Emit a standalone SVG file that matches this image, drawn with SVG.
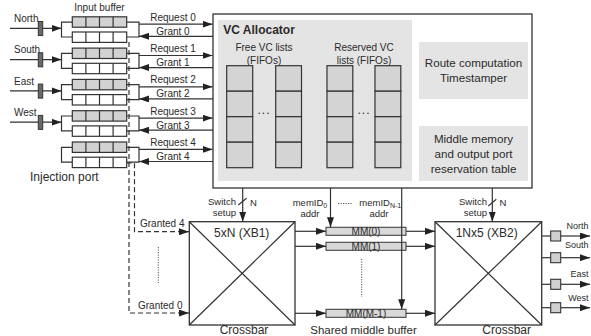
<svg xmlns="http://www.w3.org/2000/svg" width="591" height="336" viewBox="0 0 591 336">
<style>
text{font-family:"Liberation Sans",Arial,sans-serif;fill:#2b2b2b}
.t10{font-size:10px}
.t9{font-size:9.5px}
.t11{font-size:11.6px}
.t12{font-size:12px}
.c{text-anchor:middle}
.e{text-anchor:end}
.ln{fill:none;stroke:#333;stroke-width:1.2}
.dash{fill:none;stroke:#333;stroke-width:1.2;stroke-dasharray:5 3}
.dot{fill:none;stroke:#555;stroke-width:1;stroke-dasharray:1.2 1.3}
.arr{marker-end:url(#ah)}
.fq{stroke:#333;stroke-width:1.2}
.gray{fill:#d2d2d2}
.white{fill:#fff}
.cell{fill:#d4d4d4;stroke:#333;stroke-width:1.2}
.port{fill:#6a6a6a;stroke:#333;stroke-width:1}
.panel{fill:#e4e4e4}
.box{fill:#fff;stroke:#333;stroke-width:1.3}
</style>
<defs>
<marker id="ah" markerUnits="userSpaceOnUse" markerWidth="10" markerHeight="7" refX="10" refY="3.5" orient="auto"><path d="M0,0L10,3.5L0,7z" fill="#222"/></marker>
<!-- four-slot FIFO -->
<g id="fq" class="fq"><rect width="54.4" height="10.4"/><path d="M13.6,0V10.4M27.2,0V10.4M40.8,0V10.4" fill="none"/></g>
<!-- one input port: demux, two FIFOs, request/grant pair -->
<g id="portcore">
<path class="ln" d="M72.3,22.1H61.5V37H72.3"/>
<use href="#fq" x="72.3" y="16.8" class="gray"/>
<use href="#fq" x="72.3" y="32" class="white"/>
<path class="ln" d="M126.7,22.1H139V37H126.7"/>
<path class="ln arr" d="M139,24.2H212.5"/>
<path class="ln arr" d="M213,36.3H139"/>
</g>
<g id="portin">
<path class="ln arr" d="M10,28.3H38.3M42.7,28.3H61.5"/>
<rect class="port" x="38.3" y="21.5" width="4.4" height="14"/>
</g>
</defs>

<!-- input ports -->
<g id="port-north">
<use href="#portin"/><use href="#portcore"/>
<text class="t10" x="14" y="22">North</text>
<text class="t10 c" x="173" y="20.8">Request 0</text>
<text class="t10 c" x="173" y="34.8">Grant 0</text>
</g>
<g id="port-south" transform="translate(0,31.3)">
<use href="#portin"/><use href="#portcore"/>
<text class="t10" x="14" y="22">South</text>
<text class="t10 c" x="173" y="20.8">Request 1</text>
<text class="t10 c" x="173" y="34.8">Grant 1</text>
</g>
<g id="port-east" transform="translate(0,62.6)">
<use href="#portin"/><use href="#portcore"/>
<text class="t10" x="14" y="22">East</text>
<text class="t10 c" x="173" y="20.8">Request 2</text>
<text class="t10 c" x="173" y="34.8">Grant 2</text>
</g>
<g id="port-west" transform="translate(0,93.9)">
<use href="#portin"/><use href="#portcore"/>
<text class="t10" x="14" y="22">West</text>
<text class="t10 c" x="173" y="20.8">Request 3</text>
<text class="t10 c" x="173" y="34.8">Grant 3</text>
</g>
<g id="port-injection" transform="translate(0,125.2)">
<use href="#portcore"/>
<text class="t10 c" x="173" y="20.8">Request 4</text>
<text class="t10 c" x="173" y="34.8">Grant 4</text>
</g>
<text class="t10 c" x="99.5" y="11">Input buffer</text>
<text class="t12" x="30" y="181">Injection port</text>

<!-- VC allocator -->
<g id="vc-allocator">
<rect class="box" x="213" y="14" width="319" height="174"/>
<rect class="panel" x="218" y="20" width="194" height="161"/>
<text x="223.3" y="34" style="font-size:12px;font-weight:bold">VC Allocator</text>
<text class="t10 c" x="264" y="50.5">Free VC lists</text>
<text class="t10 c" x="264" y="64">(FIFOs)</text>
<text class="t10 c" x="364" y="50.5">Reserved VC</text>
<text class="t10 c" x="364" y="64">lists (FIFOs)</text>
<g>
<rect class="cell" x="226.7" y="65.7" width="26" height="25.5"/>
<rect class="cell" x="226.7" y="91.2" width="26" height="25.5"/>
<rect class="cell" x="226.7" y="116.7" width="26" height="25.5"/>
<rect class="cell" x="226.7" y="142.2" width="26" height="25.5"/>
<rect class="cell" x="275.7" y="65.7" width="25.8" height="25.5"/>
<rect class="cell" x="275.7" y="91.2" width="25.8" height="25.5"/>
<rect class="cell" x="275.7" y="116.7" width="25.8" height="25.5"/>
<rect class="cell" x="275.7" y="142.2" width="25.8" height="25.5"/>
<rect class="cell" x="327" y="65.7" width="25.8" height="25.5"/>
<rect class="cell" x="327" y="91.2" width="25.8" height="25.5"/>
<rect class="cell" x="327" y="116.7" width="25.8" height="25.5"/>
<rect class="cell" x="327" y="142.2" width="25.8" height="25.5"/>
<rect class="cell" x="375" y="65.7" width="25.8" height="25.5"/>
<rect class="cell" x="375" y="91.2" width="25.8" height="25.5"/>
<rect class="cell" x="375" y="116.7" width="25.8" height="25.5"/>
<rect class="cell" x="375" y="142.2" width="25.8" height="25.5"/>
</g>
<text class="t12 c" x="264" y="114" letter-spacing="1">...</text>
<text class="t12 c" x="364" y="114" letter-spacing="1">...</text>
<rect class="panel" x="419" y="42" width="109" height="57"/>
<text class="t11 c" x="473.5" y="67">Route computation</text>
<text class="t11 c" x="473.5" y="81.5">Timestamper</text>
<rect class="panel" x="419" y="126" width="109" height="55"/>
<text class="t11 c" x="473.5" y="143.2">Middle memory</text>
<text class="t11 c" x="473.5" y="158">and output port</text>
<text class="t11 c" x="473.5" y="172.5">reservation table</text>
</g>

<!-- first crossbar -->
<g id="xb1">
<rect class="box" x="189.3" y="221.7" width="105.7" height="103.3"/>
<path class="ln" d="M189.3,221.7L295,325M295,221.7L189.3,325"/>
<text class="t12 c" x="241.7" y="237">5xN (XB1)</text>
<text class="t12 c" x="244" y="333.5">Crossbar</text>
</g>

<!-- shared middle buffer -->
<g id="mm0">
<rect x="326" y="227.3" width="80" height="8" fill="#d9d9d9" stroke="#444" stroke-width="1.1"/>
<text class="t10 c" x="366" y="235">MM(0)</text>
</g>
<g id="mm1">
<rect x="326" y="242.3" width="80" height="8" fill="#d9d9d9" stroke="#444" stroke-width="1.1"/>
<text class="t10 c" x="366" y="250">MM(1)</text>
</g>
<g id="mm-last">
<rect x="326" y="309.3" width="80" height="8" fill="#d9d9d9" stroke="#444" stroke-width="1.1"/>
<text class="t10 c" x="366" y="317">MM(M-1)</text>
</g>
<text class="c" x="363.5" y="333.5" style="font-size:11.5px">Shared middle buffer</text>

<!-- second crossbar -->
<g id="xb2">
<rect class="box" x="435" y="221.7" width="106.7" height="103.3"/>
<path class="ln" d="M435,221.7L541.7,325M541.7,221.7L435,325"/>
<text class="t12 c" x="486.7" y="237">1Nx5 (XB2)</text>
<text class="t12 c" x="506.7" y="333.5">Crossbar</text>
</g>

<!-- output ports -->
<g id="out-north">
<path class="ln" d="M541.7,236H550.7"/><path class="ln arr" d="M560.7,236H590"/>
<rect x="550.7" y="231" width="10" height="10" fill="#d0d0d0" stroke="#333" stroke-width="1.1"/>
<text class="e" x="588.5" y="229" style="font-size:9px">North</text>
</g>
<g id="out-south">
<path class="ln" d="M541.7,257.7H550.7"/><path class="ln arr" d="M560.7,257.7H590"/>
<rect x="550.7" y="252.7" width="10" height="10" fill="#d0d0d0" stroke="#333" stroke-width="1.1"/>
<text class="e" x="588.5" y="248" style="font-size:9px">South</text>
</g>
<g id="out-east">
<path class="ln" d="M541.7,284.3H550.7"/><path class="ln arr" d="M560.7,284.3H590"/>
<rect x="550.7" y="279.3" width="10" height="10" fill="#d0d0d0" stroke="#333" stroke-width="1.1"/>
<text class="e" x="588.5" y="277" style="font-size:9px">East</text>
</g>
<g id="out-west">
<path class="ln" d="M541.7,307.7H550.7"/><path class="ln arr" d="M560.7,307.7H590"/>
<rect x="550.7" y="302.7" width="10" height="10" fill="#d0d0d0" stroke="#333" stroke-width="1.1"/>
<text class="e" x="588.5" y="301" style="font-size:9px">West</text>
</g>

<!-- connectors -->
<g id="connectors">
<path class="dash arr" d="M129,42V313H189"/>
<path class="dash arr" d="M126.7,163H134.5V231.7H189"/>
<path class="dot" d="M158.3,247V283"/>
<text class="t10" x="140" y="226.5">Granted 4</text>
<text class="t10" x="138" y="309">Granted 0</text>

<path class="ln arr" d="M242.7,188V221.7"/>
<path class="ln" d="M238.3,205L246.5,198.3"/>
<text class="t9 e" x="236" y="205">Switch</text>
<text class="t9 e" x="236" y="216">setup</text>
<text class="t9" x="250" y="206">N</text>

<path class="ln arr" d="M330.5,188V227.3"/>
<text class="t9" x="292.7" y="205.5">memID<tspan style="font-size:7px" dy="2">0</tspan></text>
<text class="t9 c" x="310" y="216.5">addr</text>
<path class="dot" d="M338,203.5H353"/>
<path class="ln arr" d="M401.7,188V309.3"/>
<text class="t9" x="359.3" y="205.5">memID<tspan style="font-size:7px" dy="2">N-1</tspan></text>
<text class="t9 c" x="379" y="216.5">addr</text>

<path class="ln arr" d="M295,231.3H326"/>
<path class="ln arr" d="M295,246.3H326"/>
<path class="ln arr" d="M295,313.3H326"/>
<path class="dot" d="M361.7,259V297"/>
<path class="ln arr" d="M406,231.3H435"/>
<path class="ln arr" d="M406,246.3H435"/>
<path class="ln arr" d="M406,313.3H435"/>

<path class="ln arr" d="M492.3,188V221.7"/>
<path class="ln" d="M488.3,206L496.3,199.3"/>
<text class="t9 e" x="487" y="205">Switch</text>
<text class="t9 e" x="487" y="216">setup</text>
<text class="t9" x="499.5" y="206">N</text>
</g>
</svg>
